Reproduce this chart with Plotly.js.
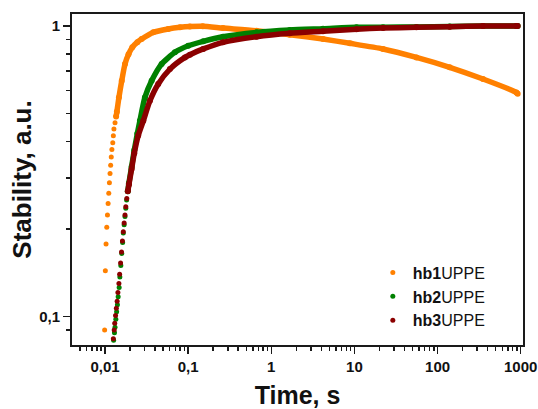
<!DOCTYPE html>
<html>
<head>
<meta charset="utf-8">
<script src="https://cdn.plot.ly/plotly-3.0.1.min.js"></script>
<style>html,body{margin:0;padding:0;background:#fff;}#chart{width:538px;height:409px;}</style>
</head>
<body>
<div id="chart"></div>
<script>
// ---- data ----
// hb1UPPE : sparse early points
const hb1_t_dots = [0.0099, 0.0101, 0.0103, 0.0105, 0.0107, 0.0109, 0.0111, 0.0113, 0.0115, 0.0117, 0.0119, 0.0121, 0.0124, 0.0126, 0.0128, 0.0132, 0.0136];
const hb1_s_dots = [0.090, 0.144, 0.178, 0.203, 0.224, 0.245, 0.266, 0.289, 0.311, 0.332, 0.354, 0.376, 0.397, 0.419, 0.442, 0.465, 0.488];
// hb1UPPE : dense band
const hb1_t_band = [0.0136, 0.0139, 0.0147, 0.0159, 0.0174, 0.0192, 0.0213, 0.0245, 0.0276, 0.0381, 0.0576, 0.080, 0.105, 0.150, 0.262, 0.665, 1.67, 4.2, 8.8, 22.1, 55.7, 140, 352, 887, 920];
const hb1_s_band = [0.488, 0.507, 0.568, 0.648, 0.740, 0.800, 0.845, 0.880, 0.902, 0.951, 0.977, 0.990, 0.996, 0.998, 0.984, 0.963, 0.934, 0.902, 0.872, 0.834, 0.780, 0.721, 0.657, 0.591, 0.585];

// hb2UPPE
const hb2_t_dots = [0.0127, 0.0130, 0.0132, 0.0135, 0.0138, 0.0141, 0.0144, 0.0148, 0.0151, 0.0155, 0.0159, 0.0163, 0.0166, 0.0170, 0.0174, 0.0178, 0.0182, 0.0188];
const hb2_s_dots = [0.083, 0.088, 0.092, 0.098, 0.104, 0.110, 0.117, 0.126, 0.137, 0.150, 0.165, 0.180, 0.194, 0.207, 0.221, 0.236, 0.252, 0.270];
const hb2_t_band = [0.0188, 0.0194, 0.0209, 0.0225, 0.0245, 0.0263, 0.0302, 0.0364, 0.0480, 0.0694, 0.1003, 0.152, 0.262, 0.665, 1.67, 4.2, 10.6, 22.1, 55.7, 140, 352, 887, 920];
const hb2_s_band = [0.270, 0.288, 0.328, 0.374, 0.427, 0.472, 0.568, 0.648, 0.740, 0.812, 0.855, 0.886, 0.919, 0.951, 0.969, 0.979, 0.990, 0.991, 0.993, 0.996, 1.000, 1.000, 1.000];

// hb3UPPE
const hb3_t_dots = [0.0126, 0.0129, 0.0131, 0.0134, 0.0137, 0.0140, 0.0143, 0.0147, 0.0150, 0.0154, 0.0158, 0.0162, 0.0166, 0.0170, 0.0174, 0.0178, 0.0183, 0.0188];
const hb3_s_dots = [0.084, 0.090, 0.095, 0.101, 0.107, 0.113, 0.121, 0.130, 0.140, 0.153, 0.167, 0.182, 0.196, 0.210, 0.224, 0.239, 0.255, 0.270];
const hb3_t_band = [0.0188, 0.0194, 0.0209, 0.0225, 0.0251, 0.0289, 0.0347, 0.0437, 0.0604, 0.0915, 0.105, 0.152, 0.262, 0.665, 1.67, 4.2, 10.6, 22.1, 55.7, 140, 352, 887, 920];
const hb3_s_band = [0.270, 0.285, 0.322, 0.365, 0.420, 0.472, 0.553, 0.632, 0.711, 0.780, 0.797, 0.834, 0.879, 0.919, 0.944, 0.959, 0.975, 0.984, 0.990, 0.995, 1.000, 1.000, 1.000];

// tick labels
const xTickVals = [0.01, 0.1, 1, 10, 100, 1000];
const xTickText = ['0,01', '0,1', '1', '10', '100', '1000'];
const yTickVals = [0.1, 1];
const yTickText = ['0,1', '1'];

const seriesNames = ['<b>hb1</b>UPPE', '<b>hb2</b>UPPE', '<b>hb3</b>UPPE'];
const colors = ['#ff8000', '#008000', '#8b0000'];

// minor tick positions (axis decoration)
const xMinor = [];
for (let e = -3; e <= 2; e++) for (let m = 2; m <= 9; m++) { const v = m * Math.pow(10, e); if (v > 0.0045 && v < 1050) xMinor.push(v); }
const yMinor = [];
for (let e = -2; e <= -1; e++) for (let m = 2; m <= 9; m++) { const v = m * Math.pow(10, e); if (v > 0.081 && v < 1) yMinor.push(v); }

const dots = [[hb1_t_dots, hb1_s_dots], [hb2_t_dots, hb2_s_dots], [hb3_t_dots, hb3_s_dots]];
const bands = [[hb1_t_band, hb1_s_band], [hb2_t_band, hb2_s_band], [hb3_t_band, hb3_s_band]];

const traces = [];
for (let i = 0; i < 3; i++) {
  traces.push({
    x: bands[i][0], y: bands[i][1], type: 'scatter', mode: 'lines+markers',
    line: {color: colors[i], width: 5.5, shape: 'spline', smoothing: 0.6},
    marker: {color: colors[i], size: 6},
    legendgroup: 'g' + i, showlegend: false, hoverinfo: 'skip'
  });
  traces.push({
    x: dots[i][0], y: dots[i][1], type: 'scatter', mode: 'markers',
    name: seriesNames[i],
    marker: {color: colors[i], size: 5},
    legendgroup: 'g' + i, showlegend: true
  });
}

const axisCommon = {
  type: 'log', showgrid: false, zeroline: false,
  showline: true, linecolor: '#1a1a1a', linewidth: 2, mirror: true,
  ticks: 'outside', ticklen: 7, tickwidth: 1.5, tickcolor: '#1a1a1a',
  tickmode: 'array',
  tickfont: {family: 'Liberation Sans, Arial, sans-serif', size: 15, color: '#111', weight: 'bold'}
};

const layout = {
  width: 538, height: 409,
  margin: {l: 72, r: 15, t: 14, b: 64},
  paper_bgcolor: '#fff', plot_bgcolor: '#fff',
  showlegend: true,
  legend: {
    x: 0.667, y: 0.27, xanchor: 'left', yanchor: 'top',
    bgcolor: 'rgba(0,0,0,0)', borderwidth: 0, tracegroupgap: 0,
    font: {family: 'Liberation Sans, Arial, sans-serif', size: 16, color: '#111'},
    traceorder: 'normal', itemwidth: 30
  },
  xaxis: Object.assign({}, axisCommon, {
    range: [Math.log10(0.00401), Math.log10(1066)],
    tickvals: xTickVals, ticktext: xTickText,
    minor: {tickvals: xMinor, ticks: 'outside', ticklen: 4, tickwidth: 1.5, tickcolor: '#1a1a1a'},
    title: {text: 'Time, s', font: {family: 'Liberation Sans, Arial, sans-serif', size: 25, color: '#111', weight: 'bold'}, standoff: 13}
  }),
  yaxis: Object.assign({}, axisCommon, {
    range: [Math.log10(0.0799), Math.log10(1.1)],
    tickvals: yTickVals, ticktext: yTickText,
    minor: {tickvals: yMinor, ticks: 'outside', ticklen: 4, tickwidth: 1.5, tickcolor: '#1a1a1a'},
    title: {text: 'Stability, a.u.', font: {family: 'Liberation Sans, Arial, sans-serif', size: 26, color: '#111', weight: 'bold'}, standoff: 0}
  })
};

Plotly.newPlot('chart', traces, layout, {displayModeBar: false, staticPlot: true});
</script>
</body>
</html>
